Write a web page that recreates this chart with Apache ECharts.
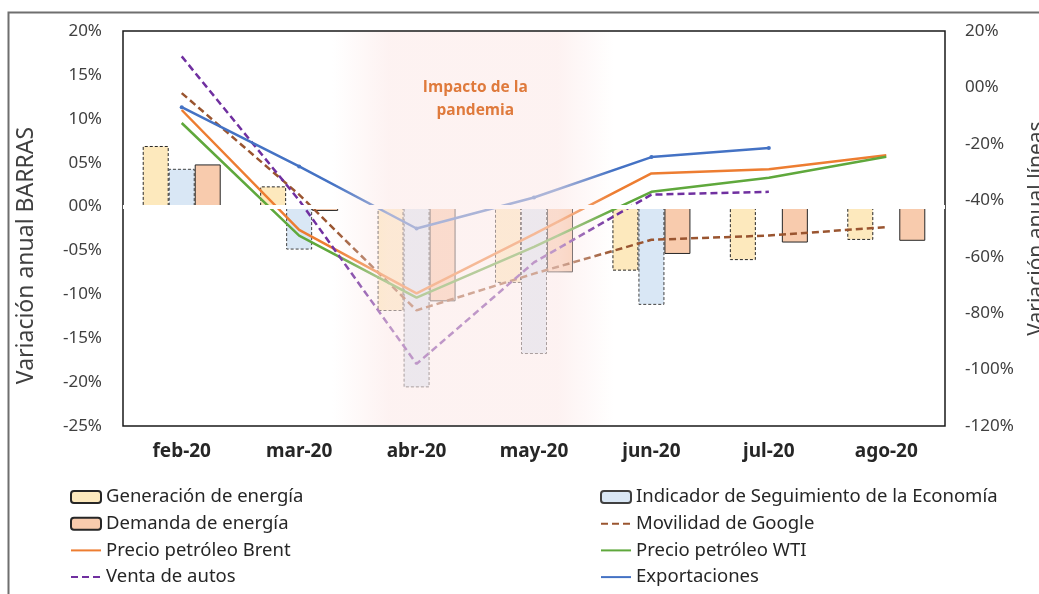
<!DOCTYPE html>
<html>
<head>
<meta charset="utf-8">
<script src="https://cdn.jsdelivr.net/npm/echarts@6/dist/echarts.min.js"></script>
<style>
  html, body { margin: 0; padding: 0; background: #ffffff; }
  #chart { width: 1039px; height: 594px; }
</style>
</head>
<body>
<div id="chart"></div>
<script>
// Months on the category axis
const months = ['feb-20', 'mar-20', 'abr-20', 'may-20', 'jun-20', 'jul-20', 'ago-20'];

// Bars (left axis, annual variation %)
const generacion = [6.9, 2.3, -11.9, -8.7, -7.3, -6.1, -3.8];
const ise        = [4.3, -4.9, -20.6, -16.8, -11.2, null, null];
const demanda    = [4.8, -0.5, -10.8, -7.5, -5.4, -4.1, -3.9];

// Lines (right axis, annual variation %)
const movilidad     = [-2, -38, -79, -66, -54, -52.5, -49.5];
const ventaAutos    = [11, -40, -98, -62, -38, -37, null];
const brent         = [-8, -50.5, -73, -52, -30.5, -29, -24];
const wti           = [-12.6, -52.5, -74.5, -56.5, -37, -32, -24.6];
const exportaciones = [-7, -28, -50, -39, -24.7, -21.5, null];

// Axis ranges and the highlighted period
const leftAxis  = { min: -25, max: 20, interval: 5 };
const rightAxis = { min: -120, max: 20, interval: 20 };
const periodoPandemia = ['abr-20', 'may-20'];
const textoPandemia = 'Impacto de la\npandemia';

const FONT = "'Noto Sans', 'Open Sans', sans-serif";
const TXT = '#404040';

// "05%", "00%", "-10%" style labels
function pct(v) {
  const a = Math.abs(Math.round(v));
  return (v < 0 ? '-' : '') + (a < 10 ? '0' + a : '' + a) + '%';
}

const chart = echarts.init(document.getElementById('chart'));

function barSeries(name, data, fill, border, dashed) {
  return {
    name: name, type: 'bar', data: data, yAxisIndex: 0,
    barWidth: 26, barGap: '0%',
    itemStyle: {
      color: fill, borderColor: border, borderWidth: 1,
      borderType: dashed ? [3, 2] : 'solid'
    }
  };
}

function lineSeries(name, data, color, dashed, marker) {
  return {
    name: name, type: 'line', data: data, yAxisIndex: 1,
    symbol: marker ? 'circle' : 'none', symbolSize: 4, showSymbol: !!marker,
    itemStyle: { color: color },
    lineStyle: { color: color, width: 2.5, type: dashed ? [7, 4] : 'solid' },
    z: 3
  };
}

const demandaSeries = barSeries('Demanda de energía', demanda, '#f8cbad', '#262626', false);
// white line along the zero of the bar axis
demandaSeries.markLine = {
  silent: true, symbol: ['none', 'none'], label: { show: false },
  lineStyle: { color: '#ffffff', width: 4, type: 'solid' },
  data: [{ yAxis: 0 }]
};

const legendText = { fontFamily: FONT, fontSize: 18.5, color: '#262626', lineHeight: 20 };
// line entries show only the stroke, no marker
const lineItem = (name) => ({ name: name, itemStyle: { opacity: 0 } });
const legendBase = {
  orient: 'vertical', top: 487, itemGap: 6.7, padding: 0,
  itemWidth: 30, itemHeight: 12, textStyle: legendText
};

chart.setOption({
  animation: false,
  backgroundColor: '#ffffff',
  grid: {
    left: 123, right: 94, top: 31, bottom: 168,
    containLabel: false, outerBoundsMode: 'none',
    show: true, borderColor: '#1a1a1a', borderWidth: 1.5, backgroundColor: 'transparent'
  },
  legend: [
    Object.assign({}, legendBase, {
      left: 70,
      data: ['Generación de energía', 'Demanda de energía',
             lineItem('Precio petróleo Brent'), lineItem('Venta de autos')]
    }),
    Object.assign({}, legendBase, {
      left: 600,
      data: ['Indicador de Seguimiento de la Economía', lineItem('Movilidad de Google'),
             lineItem('Precio petróleo WTI'), lineItem('Exportaciones')]
    })
  ],
  xAxis: {
    type: 'category', data: months,
    axisLine: { show: false, onZero: false },
    axisTick: { show: false },
    axisLabel: { fontFamily: FONT, fontSize: 19, fontWeight: 'bold', color: '#262626', margin: 16 },
    splitLine: { show: false }
  },
  yAxis: [
    {
      type: 'value', min: leftAxis.min, max: leftAxis.max, interval: leftAxis.interval,
      name: 'Variación anual BARRAS', nameLocation: 'middle', nameRotate: 90, nameGap: 85,
      nameTextStyle: { fontFamily: FONT, fontSize: 23, color: TXT, padding: [0, 54, 0, 0] },
      axisLine: { show: false }, axisTick: { show: false }, splitLine: { show: false },
      axisLabel: { fontFamily: FONT, fontSize: 17, color: TXT, margin: 21, formatter: pct }
    },
    {
      type: 'value', min: rightAxis.min, max: rightAxis.max, interval: rightAxis.interval,
      position: 'right',
      name: 'Variación anual líneas', nameLocation: 'middle', nameRotate: 90, nameGap: 82,
      nameTextStyle: { fontFamily: FONT, fontSize: 21, color: TXT },
      axisLine: { show: false }, axisTick: { show: false }, splitLine: { show: false },
      axisLabel: { fontFamily: FONT, fontSize: 17, color: TXT, margin: 20, formatter: pct }
    }
  ],
  series: [
    barSeries('Generación de energía', generacion, '#fde9bd', '#262626', true),
    barSeries('Indicador de Seguimiento de la Economía', ise, '#d9e7f5', '#404040', true),
    demandaSeries,
    lineSeries('Movilidad de Google', movilidad, '#9a5530', true, false),
    lineSeries('Precio petróleo Brent', brent, '#ed7d31', false, false),
    lineSeries('Precio petróleo WTI', wti, '#5fa83c', false, false),
    lineSeries('Venta de autos', ventaAutos, '#7030a0', true, false),
    lineSeries('Exportaciones', exportaciones, '#4472c4', false, true)
  ]
});

// Soft overlay over the pandemic months, placed from the category axis
function drawOverlay() {
  const c0 = chart.convertToPixel({ xAxisIndex: 0 }, months[0]);
  const c1 = chart.convertToPixel({ xAxisIndex: 0 }, months[1]);
  const band = c1 - c0;
  const xa = chart.convertToPixel({ xAxisIndex: 0 }, periodoPandemia[0]) - band / 2;
  const xb = chart.convertToPixel({ xAxisIndex: 0 }, periodoPandemia[1]) + band / 2;
  const yTop = chart.convertToPixel({ yAxisIndex: 0 }, leftAxis.max);
  const yBot = chart.convertToPixel({ yAxisIndex: 0 }, leftAxis.min);
  const x0 = xa - 0.22 * band;
  const x1 = xb + 0.18 * band;
  const w = x1 - x0;
  const tint = 'rgba(252,232,231,';
  chart.setOption({
    graphic: [
      {
        type: 'rect', silent: true, z: 0,
        shape: { x: 8.5, y: 12.5, width: 1200, height: 800 },
        style: { fill: 'none', stroke: '#6f6f6f', lineWidth: 2 }
      },
      {
        type: 'rect', silent: true, z: 100,
        shape: { x: x0, y: yTop + 1, width: w, height: yBot - yTop - 2 },
        style: {
          fill: {
            type: 'linear', x: 0, y: 0, x2: 1, y2: 0,
            colorStops: [
              { offset: 0, color: tint + '0)' },
              { offset: 0.2, color: tint + '0.56)' },
              { offset: 0.8, color: tint + '0.56)' },
              { offset: 1, color: tint + '0)' }
            ]
          }
        }
      },
      {
        type: 'text', silent: true, z: 101,
        x: (xa + xb) / 2, y: yTop + 45,
        style: {
          text: textoPandemia, fill: '#df7a3c', align: 'center', verticalAlign: 'top',
          font: "bold 15.5px 'Open Sans', 'Noto Sans', sans-serif", lineHeight: 23
        }
      }
    ]
  });
}
drawOverlay();
</script>
</body>
</html>
